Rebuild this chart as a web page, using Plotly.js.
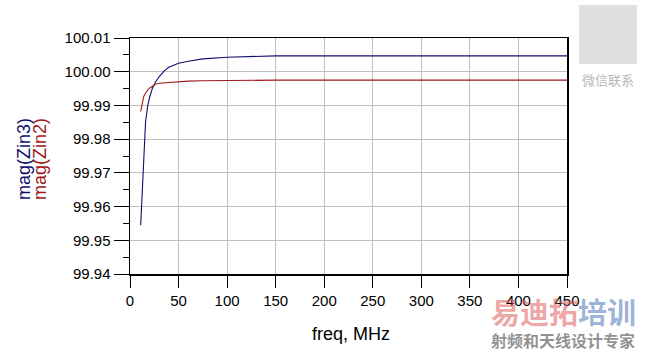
<!DOCTYPE html>
<html>
<head>
<meta charset="utf-8">
<script src="https://cdn.plot.ly/plotly-3.0.1.min.js"></script>
<style>html,body{margin:0;padding:0;background:#fff;}#chart{width:647px;height:354px;}</style>
</head>
<body>
<div id="chart"></div>
<script>
// Data
const freqMHz = [11, 12, 13, 14, 15, 16, 18, 20, 23, 26, 30, 35, 40, 50, 60, 75, 100, 150, 200, 250, 300, 350, 400, 450];
const magZin3 = [99.9545, 99.9615, 99.9685, 99.9755, 99.9810, 99.9850, 99.9895, 99.9922, 99.9950, 99.9968, 99.9985, 100.0002, 100.0013, 100.0025, 100.0031, 100.0038, 100.0043, 100.0047, 100.0047, 100.0047, 100.0047, 100.0047, 100.0047, 100.0047];
const magZin2 = [99.9882, 99.9900, 99.9915, 99.9925, 99.9932, 99.9937, 99.9945, 99.9951, 99.9958, 99.9963, 99.9966, 99.9967, 99.9969, 99.9970, 99.9972, 99.9973, 99.9974, 99.9975, 99.9975, 99.9975, 99.9975, 99.9975, 99.9975, 99.9975];
const xTickVals = [0, 50, 100, 150, 200, 250, 300, 350, 400, 450];
const yTickVals = [99.94, 99.95, 99.96, 99.97, 99.98, 99.99, 100.00, 100.01];

const W = 647, H = 354, L = 130, R = 80, T = 38, B = 80;
const px = x => (x - L) / (W - L - R);
const py = y => (H - B - y) / (H - T - B);
const FONT = 'Arial, "Liberation Sans", sans-serif';
const CJK = '"Noto Sans CJK SC", sans-serif';

const traces = [
  {x: freqMHz, y: magZin3, mode: 'lines', line: {color: '#10106e', width: 1.1}, name: 'mag(Zin3)', hoverinfo: 'none'},
  {x: freqMHz, y: magZin2, mode: 'lines', line: {color: '#a01818', width: 1.1}, name: 'mag(Zin2)', hoverinfo: 'none'}
];

const axisCommon = {
  showline: true, linecolor: '#000', linewidth: 1.5, mirror: true,
  showgrid: true, gridcolor: '#c0c0c0', gridwidth: 1,
  zeroline: false, ticks: 'outside', tickcolor: '#000', tickwidth: 1,
  tickfont: {family: FONT, size: 15, color: '#000'}
};

function note(text, x, y, font, extra) {
  return Object.assign({text: text, xref: 'paper', yref: 'paper', x: px(x), y: py(y),
    xanchor: 'center', yanchor: 'middle', showarrow: false, font: font}, extra || {});
}

const layout = {
  width: W, height: H,
  margin: {l: L, r: R, t: T, b: B, pad: 0},
  paper_bgcolor: '#fff', plot_bgcolor: '#fff',
  showlegend: false,
  font: {family: FONT},
  xaxis: Object.assign({}, axisCommon, {
    range: [0, 450], tickmode: 'array', tickvals: xTickVals, ticklen: 12
  }),
  yaxis: Object.assign({}, axisCommon, {
    range: [99.94, 100.01], tickmode: 'array', tickvals: yTickVals,
    ticktext: yTickVals.map(v => v.toFixed(2)), ticklen: 15,
    minor: {dtick: 0.005, ticks: 'outside', ticklen: 6, tickcolor: '#000', showgrid: false}
  }),
  shapes: [
    {type: 'rect', xref: 'paper', yref: 'paper', x0: px(579), x1: px(637), y0: py(64), y1: py(5),
     fillcolor: 'rgba(150,150,150,0.3)', line: {width: 0}, layer: 'above'}
  ],
  annotations: [
    note('mag(Zin3)', 24, 159, {family: FONT, size: 18, color: '#10106e'}, {textangle: -90}),
    note('mag(Zin2)', 40, 159, {family: FONT, size: 18, color: '#a01818'}, {textangle: -90}),
    note('freq, MHz', 351, 334, {family: FONT, size: 18, color: '#000'}),
    note('微信联系', 608, 79, {family: CJK, size: 13, color: '#b8b8b8'}),
    note('<b><span style="color:rgba(220,90,90,0.55)">易迪拓</span><span style="color:rgba(90,130,190,0.6)">培训</span></b>',
      563, 311, {family: CJK, size: 29}),
    note('<b>射频和天线设计专家</b>', 563, 340, {family: CJK, size: 16, color: 'rgba(110,110,110,0.75)'})
  ]
};

Plotly.newPlot('chart', traces, layout, {staticPlot: true, displayModeBar: false});
</script>
</body>
</html>
